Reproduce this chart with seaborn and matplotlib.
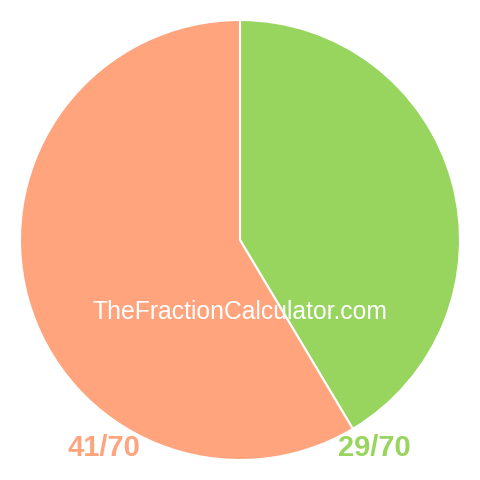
import matplotlib
matplotlib.use("Agg")
import matplotlib.pyplot as plt
import seaborn as sns

labels = ["29/70", "41/70"]
values = [29, 41]
colors = ["#98d55f", "#ffa47c"]

sns.set_theme(style="white")
plt.rcParams['font.family'] = ['Liberation Sans', 'DejaVu Sans']

fig = plt.figure(figsize=(4.8, 4.8), dpi=100)
ax = fig.add_axes([0, 0, 1, 1])
ax.pie(values, colors=colors, startangle=90, counterclock=False, radius=220,
       center=(0, 0), frame=False,
       wedgeprops=dict(edgecolor="white", linewidth=1.5))
ax.set_xlim(-240, 240)
ax.set_ylim(-240, 240)
ax.set_aspect("equal")
ax.axis("off")

# watermark
ax.text(0, -72, "TheFractionCalculator.com", color="white", fontsize=17.8,
        ha="center", va="center")

# fraction labels under the pie
ax.text(-173, -208, labels[1], color=colors[1], fontsize=21, fontweight="bold",
        ha="left", va="center")
ax.text(171, -208, labels[0], color=colors[0], fontsize=21, fontweight="bold",
        ha="right", va="center")

fig.savefig("out.png", dpi=100, facecolor="white")
